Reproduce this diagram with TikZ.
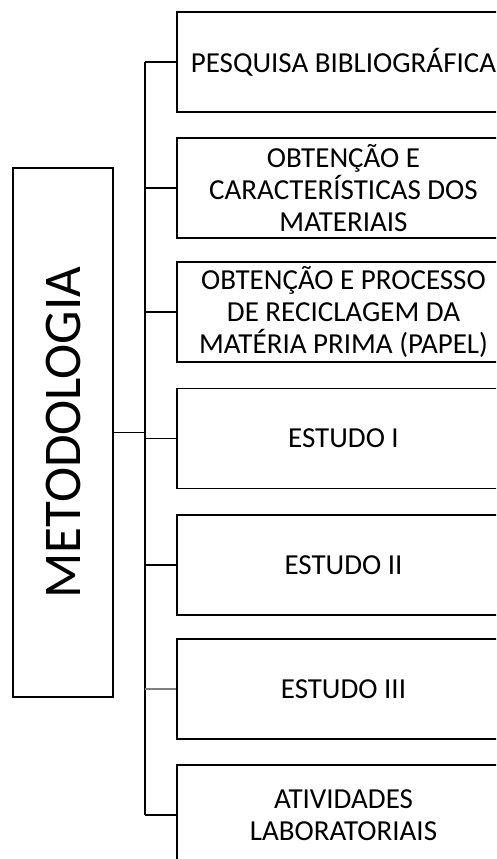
\documentclass[tikz,border=0pt]{standalone}
\usepackage{fontspec}
\setmainfont{Carlito}
\begin{document}
\begin{tikzpicture}[x=1pt,y=-1pt,
  line width=1.3pt,
  sub/.style={draw, rectangle, minimum width=333pt, minimum height=100pt, align=center,
    font=\fontsize{29}{32}\selectfont, inner sep=0pt},
  mainbox/.style={draw, rectangle, rotate=90, minimum width=529pt, minimum height=100pt,
    font=\fontsize{53}{60}\selectfont, inner sep=0pt},
  conn/.style={draw, line width=1.3pt}]
\useasboundingbox (0,0) rectangle (496,859);
\clip (0,0) rectangle (496,859);
\node[mainbox] (main) at (63,432.5) {METODOLOGIA};
\node[sub] (b1) at (343.5,62) {PESQUISA BIBLIOGRÁFICA};
\node[sub] (b2) at (343.5,188) {OBTENÇÃO E\\CARACTERÍSTICAS DOS\\MATERIAIS};
\node[sub] (b3) at (343.5,312) {OBTENÇÃO E PROCESSO\\DE RECICLAGEM DA\\MATÉRIA PRIMA (PAPEL)};
\node[sub] (b4) at (343.5,438.5) {ESTUDO I};
\node[sub] (b5) at (343.5,565) {ESTUDO II};
\node[sub] (b6) at (343.5,689) {ESTUDO III};
\node[sub] (b7) at (343.5,815) {ATIVIDADES\\LABORATORIAIS};
\coordinate (tr) at (145,0);
\draw[conn] (main.south) -- (main.south -| tr);
\draw[conn] (b1.west -| tr) -- (b7.west -| tr);
\foreach \b in {b1,b2,b3,b4,b5,b7}{
  \draw[conn] (\b.west) -- (\b.west -| tr);
}
\draw[conn, gray] (b6.west) -- (b6.west -| tr);
\end{tikzpicture}
\end{document}
